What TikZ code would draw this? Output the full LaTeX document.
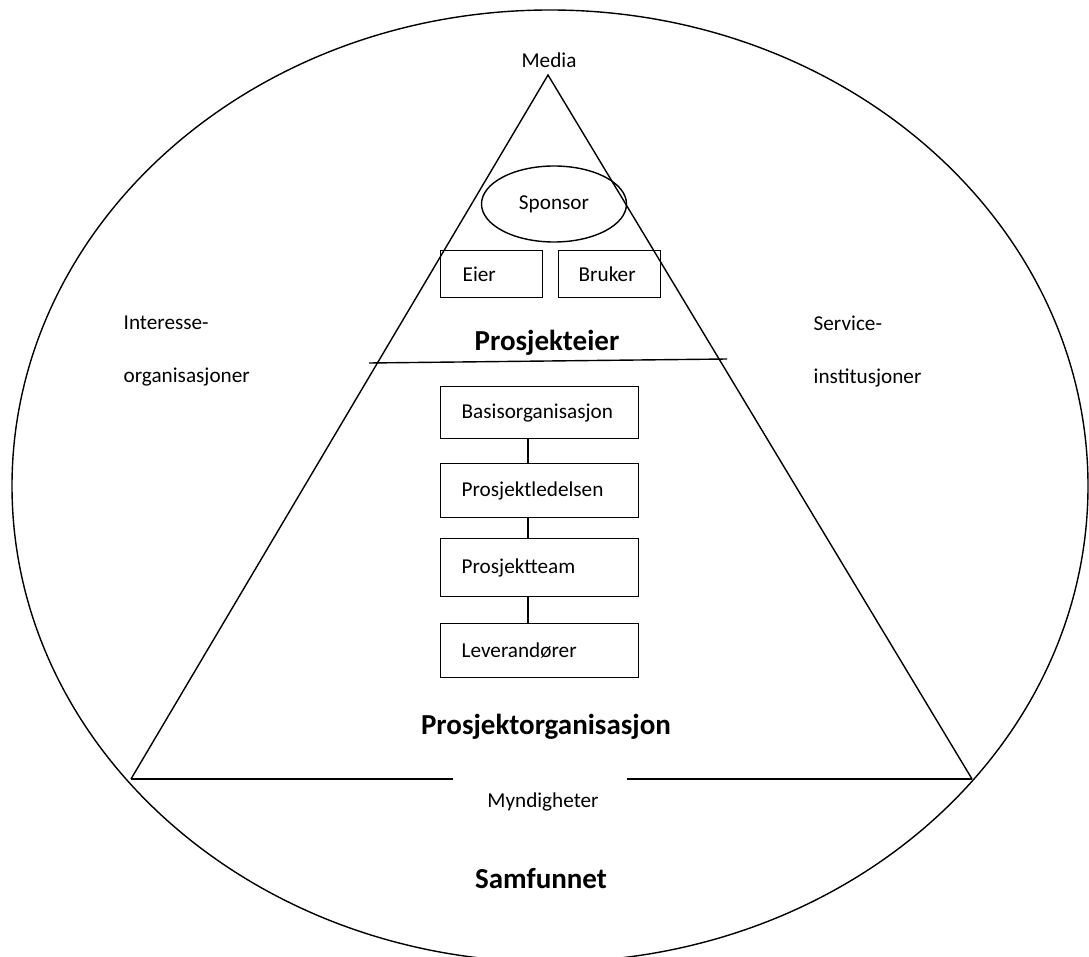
\documentclass[tikz,border=0pt]{standalone}
\usepackage{fontspec}
\setmainfont{Carlito}
\usetikzlibrary{shapes.geometric}
\begin{document}
\begin{tikzpicture}[x=1pt,y=-1pt,
  line width=1.4pt,
  lbl/.style={font=\fontsize{21.2}{25}\selectfont, inner sep=0pt},
  head/.style={font=\fontsize{29}{33}\selectfont\bfseries, inner sep=0pt},
  orgbox/.style={draw, line width=1.4pt, font=\fontsize{21.2}{25}\selectfont, align=left, inner xsep=21pt, inner ysep=0pt, anchor=north west}]
\useasboundingbox (0,0) rectangle (1089,957);
% outer ellipse
\draw (550,486) ellipse [x radius=538pt, y radius=476pt];
% triangle
\coordinate (apex) at (548,75);
\coordinate (bl) at (131,779);
\coordinate (br) at (972,779);
\coordinate (gl) at (453,779);
\coordinate (gr) at (627,779);
\draw (bl) -- (apex) -- (br);
\draw (bl) -- (gl);
\draw (gr) -- (br);
% divider
\coordinate (dl) at (369,363);
\coordinate (dr) at (727,359);
\draw (dl) -- (dr);
% sponsor
\node[draw, ellipse, minimum width=145pt, minimum height=76pt, lbl] (sponsor) at (554,204) {Sponsor};
% boxes
\node[orgbox, text width=58pt, minimum height=47pt, inner xsep=22pt] (eier) at (440,250) {Eier};
\node[orgbox, text width=62pt, minimum height=47pt, inner xsep=20pt] (bruker) at (558,250) {Bruker};
\node[orgbox, text width=156pt, minimum height=52pt] (basis) at (440,386) {Basisorganisasjon};
\node[orgbox, text width=156pt, minimum height=54pt] (ledelse) at (440,463) {Prosjektledelsen};
\node[orgbox, text width=156pt, minimum height=58pt] (team) at (440,538) {Prosjektteam};
\node[orgbox, text width=156pt, minimum height=54pt] (lever) at (440,623) {Leverandører};
\coordinate (cx) at (528,0);
\draw (basis.south -| cx) -- (ledelse.north -| cx);
\draw (ledelse.south -| cx) -- (team.north -| cx);
\draw (team.south -| cx) -- (lever.north -| cx);
% labels
\node[lbl] (media) at (549,60) {Media};
\node[lbl, anchor=west] (int1) at (123,323) {Interesse-};
\node[lbl, anchor=west] (int2) at (123,377) {organisasjoner};
\node[lbl, anchor=west] (ser1) at (813,323) {Service-};
\node[lbl, anchor=west] (ser2) at (813,378) {institusjoner};
\node[lbl] (mynd) at (543,802) {Myndigheter};
\node[head] (peier) at (547,343) {Prosjekteier};
\node[head] (porg) at (546,727) {Prosjektorganisasjon};
\node[head] (samf) at (541,879) {Samfunnet};
\end{tikzpicture}
\end{document}
